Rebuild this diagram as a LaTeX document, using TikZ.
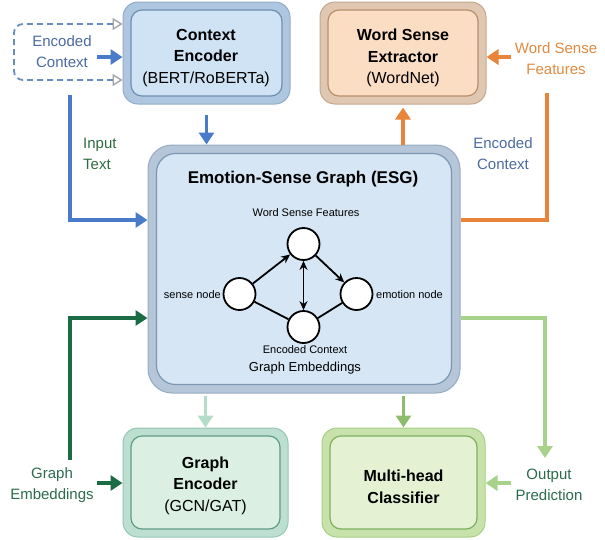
\documentclass[tikz,border=0pt]{standalone}
\usepackage{fontspec}
\setmainfont{Liberation Sans}
\usetikzlibrary{arrows.meta,calc}
\definecolor{ceframe}{HTML}{AEC6DF}
\definecolor{ceedge}{HTML}{94ADC7}
\definecolor{cefill}{HTML}{CFE3F5}
\definecolor{celine}{HTML}{6F8FB0}
\definecolor{esgframe}{HTML}{B5C6D8}
\definecolor{esgfill}{HTML}{D6E6F4}
\definecolor{esgline}{HTML}{7D97B3}
\definecolor{wseframe}{HTML}{DFC7B2}
\definecolor{wseedge}{HTML}{C4A88E}
\definecolor{wsefill}{HTML}{FBDDC4}
\definecolor{wseline}{HTML}{B8906C}
\definecolor{geframe}{HTML}{BCDFD2}
\definecolor{geedge}{HTML}{97C6B4}
\definecolor{gefill}{HTML}{DBF0E3}
\definecolor{geline}{HTML}{5F9C86}
\definecolor{mhframe}{HTML}{C8E2AB}
\definecolor{mhedge}{HTML}{A6CF86}
\definecolor{mhfill}{HTML}{E4F2D3}
\definecolor{mhline}{HTML}{7FB060}
\definecolor{cblue}{HTML}{4A7BC8}
\definecolor{corange}{HTML}{E8853A}
\definecolor{cdkgreen}{HTML}{1B6B45}
\definecolor{cltgreen}{HTML}{A8D28C}
\definecolor{cteal}{HTML}{B3DCC9}
\definecolor{colive}{HTML}{8DBD6C}
\definecolor{tblue}{HTML}{4A6AA0}
\definecolor{tgreen}{HTML}{2E6B3E}
\definecolor{torange}{HTML}{E08A40}
\definecolor{tteal}{HTML}{2A6B4E}
\definecolor{dashblue}{HTML}{6A8CC2}
\tikzset{
  outerbox/.style={rounded corners=15pt, inner sep=0pt, line width=1pt},
  innerbox/.style={rounded corners=11pt, inner sep=0pt, line width=1.2pt},
  boxtext/.style={align=center, inner sep=0pt, font=\fontsize{16}{21.5}\selectfont},
  lbl/.style={align=center, inner sep=0pt, font=\fontsize{15}{21}\selectfont},
  conn/.style={line width=3.5pt, -{Triangle[length=12pt,width=15pt]}},
  plainconn/.style={line width=3.5pt},
  gnode/.style={circle, draw=black, fill=white, line width=1.8pt, minimum size=32pt, inner sep=0pt},
  gedge/.style={line width=1.8pt, draw=black},
  gtip/.style={-{Stealth[length=9pt,width=8pt]}},
  gtext/.style={inner sep=0pt, font=\fontsize{11}{13}\selectfont},
}
\begin{document}
\begin{tikzpicture}[x=1pt,y=-1pt]
\useasboundingbox (0,0) rectangle (605,539);

% ---- Context Encoder
\node[outerbox, fill=ceframe, draw=ceedge, minimum width=167pt, minimum height=102pt] (ce) at (206.5,53) {};
\node[innerbox, fill=cefill, draw=celine, minimum width=151pt, minimum height=86pt] (cein) at (ce.center) {};
\node[boxtext] (cetext) at (206,58) {\textbf{Context}\\\textbf{Encoder}\\(BERT/RoBERTa)};

% ---- Word Sense Extractor
\node[outerbox, fill=wseframe, draw=wseedge, minimum width=166pt, minimum height=102pt] (wse) at (403,53) {};
\node[innerbox, fill=wsefill, draw=wseline, minimum width=150pt, minimum height=86pt] (wsein) at (wse.center) {};
\node[boxtext] (wsetext) at (403,58) {\textbf{Word Sense}\\\textbf{Extractor}\\(WordNet)};

% ---- ESG
\node[outerbox, rounded corners=24pt, fill=esgframe, draw=esgline!80, minimum width=312pt, minimum height=248pt] (esg) at (304,269) {};
\node[innerbox, rounded corners=19pt, fill=esgfill, draw=esgline, minimum width=295pt, minimum height=231pt] (esgin) at (esg.center) {};
\node[inner sep=0pt, font=\fontsize{17}{20}\selectfont\bfseries] (esgtitle) at (303,179) {Emotion-Sense Graph (ESG)};

% ---- Graph Encoder
\node[outerbox, fill=geframe, draw=geedge, minimum width=165pt, minimum height=109pt] (ge) at (205.5,482.5) {};
\node[innerbox, fill=gefill, draw=geline, minimum width=149pt, minimum height=93pt] (gein) at (ge.center) {};
\node[boxtext] (getext) at (205.5,485.5) {\textbf{Graph}\\\textbf{Encoder}\\(GCN/GAT)};

% ---- Multi-head Classifier
\node[outerbox, fill=mhframe, draw=mhedge, minimum width=163pt, minimum height=109pt] (mh) at (403.5,482.5) {};
\node[innerbox, fill=mhfill, draw=mhline, minimum width=147pt, minimum height=93pt] (mhin) at (mh.center) {};
\node[boxtext] (mhtext) at (403.5,487) {\textbf{Multi-head}\\\textbf{Classifier}};

% ---- inner graph
\node[gnode] (gtop) at (303.5,244) {};
\node[gnode] (gsense) at (239.5,294) {};
\node[gnode] (gemo) at (356.5,294) {};
\node[gnode] (gbot) at (303.5,327) {};
\node[gtext] (twsf) at (306,213) {Word Sense Features};
\node[gtext, anchor=east] (tsense) at (221,295) {sense node};
\node[gtext, anchor=west] (temo) at (376,295) {emotion node};
\node[gtext] (tenc) at (305,350) {Encoded Context};
\node[inner sep=0pt, font=\fontsize{13}{15}\selectfont] (tge) at (305,368) {Graph Embeddings};
\draw[gedge, gtip] (gsense) -- (gtop);
\draw[gedge, gtip] (gtop) -- (gemo);
\draw[gedge, {Stealth[length=9pt,width=8pt]}-{Stealth[length=9pt,width=8pt]}] (gtop) -- (gbot);
\draw[gedge] (gsense) -- (gbot);
\draw[gedge] (gbot) -- (gemo);

% ---- left top: encoded context dashed
\node[lbl, text=tblue] (lec) at (62,51.5) {Encoded\\Context};
\coordinate (dtop) at (ce.west |- 0,24);
\coordinate (dbot) at (ce.west |- 0,80);
\draw[dashblue, line width=1.8pt, dash pattern=on 6pt off 4pt, rounded corners=9pt,
      {Triangle[open, length=10pt, width=12pt, color=gray!75, line width=1.3pt]}-{Triangle[open, length=10pt, width=12pt, color=gray!75, line width=1.3pt]}]
      (dtop) -- (14,24) -- (14,80) -- (dbot);
\coordinate (lecarrow) at (97,57);
\draw[conn, cblue] (lecarrow) -- (ce.west |- lecarrow);

% ---- CE -> ESG
\draw[conn, cblue, shorten <=10pt] (ce.south) -- (ce.south |- esg.north);

% ---- Input text
\coordinate (itstart) at (70,95);
\draw[conn, cblue] (itstart) |- ([yshift=49pt]esg.west);
\node[lbl, text=tgreen, align=left, anchor=north west] (lit) at (83,138) {Input\\Text};

% ---- ESG -> WSE
\draw[conn, corange, shorten >=3pt] (esg.north -| wse.south) -- (wse.south);

% ---- orange path
\coordinate (wsfend) at (547,93);
\draw[plainconn, corange] ([yshift=49pt]esg.east) -| (wsfend);
\node[lbl, text=torange] (lwsf) at (556,59) {Word Sense\\Features};
\coordinate (wsfarrow) at (511,57);
\draw[conn, corange] (wsfarrow) -- (wse.east |- wsfarrow);
\node[lbl, text=tblue] (lec2) at (503,154) {Encoded\\Context};

% ---- light green path
\coordinate (opend) at (545,458);
\draw[conn, cltgreen] ([yshift=-49pt]esg.east) -| (opend);
\node[lbl, text=tteal] (lop) at (549,485) {Output\\Prediction};
\coordinate (oparrow) at (511,483);
\draw[conn, cltgreen] (oparrow) -- (mh.east |- oparrow);

% ---- dark green path
\coordinate (gestart) at (70,460);
\draw[conn, cdkgreen] (gestart) |- ([yshift=-49pt]esg.west);
\node[lbl, text=tteal] (lgemb) at (52,485) {Graph\\Embeddings};
\coordinate (gearrow) at (97,483);
\draw[conn, cdkgreen] (gearrow) -- (ge.west |- gearrow);

% ---- ESG -> GE, ESG -> MH
\draw[conn, cteal, shorten <=2pt] (esg.south -| ge.north) -- (ge.north);
\draw[conn, colive, shorten <=2pt] (esg.south -| mh.north) -- (mh.north);
\end{tikzpicture}
\end{document}
